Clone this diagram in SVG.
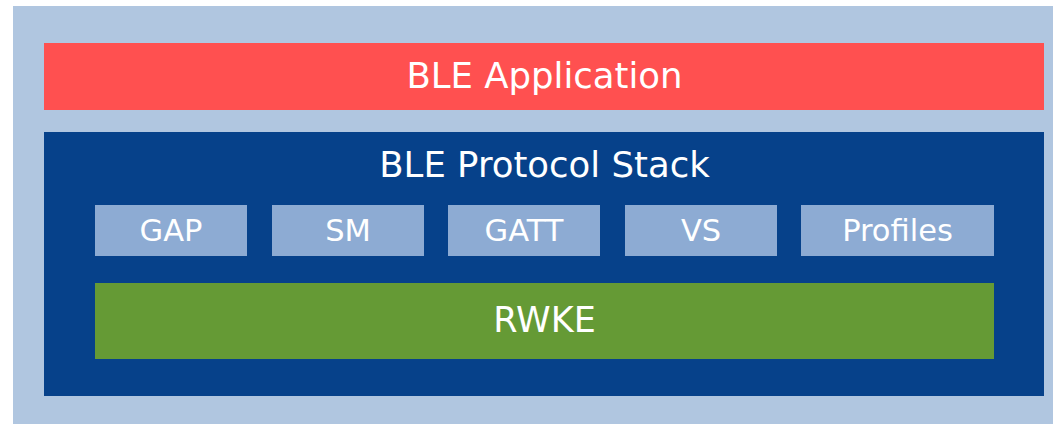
<svg xmlns="http://www.w3.org/2000/svg" width="1053" height="424" viewBox="0 0 1053 424">
<style>
text{font-family:"DejaVu Sans","Verdana",sans-serif;fill:#ffffff;text-anchor:middle}
.big{font-size:35.5px}
.mid{font-size:35px}
.sm{font-size:30.5px}
.box{fill:#8DABD3}
</style>
<rect width="1053" height="424" fill="#ffffff"/>
<rect x="13" y="6" width="1040" height="418" fill="#B0C6E0"/>
<g id="app">
<rect x="44" y="43" width="1000" height="67" fill="#FF5050"/>
<text class="big" x="544.5" y="88">BLE Application</text>
</g>
<g id="stack">
<rect x="44" y="132" width="1000" height="264" fill="#06418A"/>
<text class="big" x="544.5" y="177">BLE Protocol Stack</text>
</g>
<g id="gap">
<rect class="box" x="95" y="205" width="152" height="51"/>
<text class="sm" x="171" y="241">GAP</text>
</g>
<g id="sm">
<rect class="box" x="272" y="205" width="152" height="51"/>
<text class="sm" x="348" y="241">SM</text>
</g>
<g id="gatt">
<rect class="box" x="448" y="205" width="152" height="51"/>
<text class="sm" x="524" y="241">GATT</text>
</g>
<g id="vs">
<rect class="box" x="625" y="205" width="152" height="51"/>
<text class="sm" x="701" y="241">VS</text>
</g>
<g id="profiles">
<rect class="box" x="801" y="205" width="193" height="51"/>
<text class="sm" x="897.5" y="241">Profiles</text>
</g>
<g id="rwke">
<rect x="95" y="283" width="899" height="76" fill="#659A35"/>
<text class="mid" x="544.5" y="332">RWKE</text>
</g>
<g id="connectors"></g>
</svg>
